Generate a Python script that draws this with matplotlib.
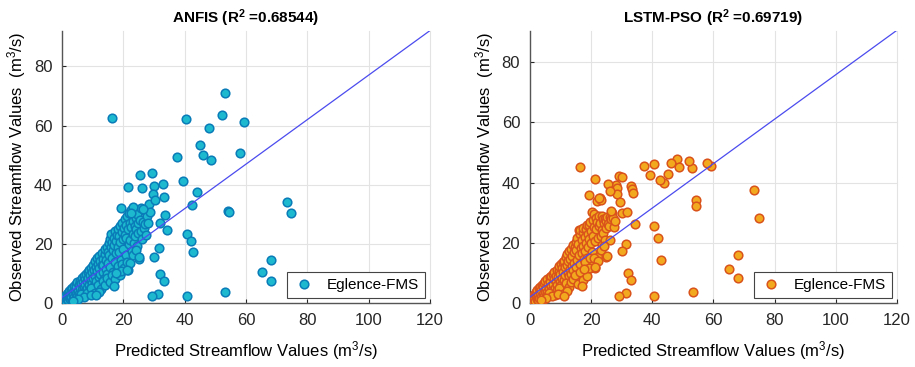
import numpy as np
import matplotlib
matplotlib.use("Agg")
import matplotlib.pyplot as plt

# predicted values (shared by both panels) and observed values per model
pred = [0.2, 0.4, 0.5, 0.7, 0.9, 1.0, 1.2, 1.4, 1.5, 1.7, 1.9, 2.0, 2.2, 2.4, 2.5, 2.7, 2.9, 3.0,
        3.2, 3.4, 3.5, 3.7, 3.9, 4.0, 4.2, 4.4, 4.5, 4.7, 4.9, 5.0, 5.2, 5.4, 5.5, 5.7, 5.9, 6.0,
        6.2, 6.4, 6.5, 6.7, 6.9, 7.0, 7.2, 7.4, 7.5, 7.7, 7.9, 8.0, 8.2, 8.4, 8.5, 8.7, 8.9, 9.0,
        9.2, 9.4, 9.5, 9.7, 9.9, 10.0, 10.2, 10.4, 10.5, 10.7, 10.9, 11.0, 11.2, 11.4, 11.5, 11.7,
        11.9, 12.0, 12.2, 12.4, 12.5, 12.7, 12.9, 13.0, 13.2, 13.4, 13.5, 13.7, 13.9, 14.0, 14.2,
        14.4, 14.5, 14.7, 14.9, 15.0, 15.2, 15.4, 15.5, 15.7, 15.9, 16.0, 16.2, 16.4, 16.5, 16.7,
        16.9, 17.0, 17.2, 17.4, 17.5, 17.7, 17.9, 18.0, 18.2, 18.4, 18.5, 18.7, 18.9, 19.0, 19.2,
        19.4, 19.5, 19.7, 19.9, 20.0, 20.2, 20.4, 20.5, 20.7, 20.9, 21.0, 21.2, 21.4, 21.5, 21.7,
        21.9, 22.0, 22.2, 22.4, 22.5, 22.7, 22.9, 23.0, 23.2, 23.4, 23.5, 23.7, 23.9, 24.0, 24.2,
        24.4, 24.5, 24.7, 24.9, 25.0, 25.3, 25.6, 25.8, 26.1, 26.3, 26.6, 26.9, 27.2, 27.5, 27.8,
        28.0, 28.3, 28.6,
        # below the 1:1 band
        6.3, 8.1, 9.6, 10.8, 11.8, 12.6, 13.3, 14.1, 14.8, 15.6, 16.3, 17.3, 18.1, 18.8, 19.6,
        20.3, 21.1, 22.1, 23.3, 24.1, 7.1, 5.3, 3.6, 9.3, 12.2,
        # scattered points
        16.2, 53.0, 52.1, 40.5, 59.2, 48.0, 45.0, 46.1, 48.6, 58.0, 37.4, 39.3, 43.9, 42.5,
        54.2, 54.3, 73.3, 74.8, 68.0, 65.1, 68.0, 53.2, 40.6, 40.6, 41.9, 42.8, 34.2, 31.3,
        29.2, 11.0, 16.9, 32.0, 33.1, 29.2, 25.4, 33.0, 30.0, 21.4, 26.1, 33.2, 19.2, 33.6,
        31.5, 30.0, 25.2, 29.6, 30.2, 26.4, 23.1, 22.6, 31.8, 19.3, 21.2, 17.6]

obs_anfis = [0.5, 1.2, 0.3, 1.8, 0.6, 2.4, 1.1, 0.4, 2.9, 1.5, 3.3, 0.9, 2.1, 4.0, 1.3, 3.0, 4.6, 2.0,
             5.1, 0.8, 3.7, 2.6, 5.8, 1.9, 4.4, 6.3, 3.2, 5.5, 2.5, 7.0, 4.1, 6.1, 3.0, 7.6, 5.0, 2.2,
             6.8, 8.3, 4.3, 7.2, 3.6, 9.0, 5.7, 8.0, 6.5, 4.5, 9.8, 7.3, 5.2, 10.5, 8.6, 6.2, 11.2, 4.8,
             9.5, 7.8, 12.0, 6.9, 10.4, 8.4, 13.0, 11.3, 5.9, 9.2, 14.1, 12.2, 7.5, 10.8, 15.3, 13.3,
             8.9, 11.7, 16.0, 9.9, 14.2, 6.6, 12.8, 17.0, 10.6, 15.0, 12.9, 8.1, 16.7, 18.2, 11.6,
             14.7, 19.0, 9.8, 17.4, 13.5, 20.3, 16.1, 21.5, 12.1, 18.8, 23.4, 15.2, 20.6, 17.8, 10.5,
             22.1, 19.6, 14.0, 24.2, 21.0, 16.8, 23.0, 11.2, 25.1, 19.1, 22.7, 17.2, 26.0, 20.8, 14.5,
             24.0, 10.8, 27.0, 21.7, 18.1, 25.4, 23.1, 28.3, 16.3, 26.5, 22.0, 29.5, 11.0, 24.9, 19.8,
             30.4, 27.2, 21.4, 31.6, 25.8, 17.5, 29.9, 23.3, 27.8, 20.4, 31.1, 26.2, 22.5, 28.7, 25.0,
             30.2, 19.4, 26.9, 23.8, 14.9, 28.0, 24.5, 32.0, 21.8, 27.5, 25.3, 31.2, 26.7, 22.9, 29.3,
             27.0, 33.5, 30.9,
             2.9, 3.5, 5.1, 3.3, 6.2, 4.9, 7.4, 6.1, 8.6, 7.0, 9.4, 8.2, 12.5, 9.6, 13.1,
             11.9, 14.0, 13.4, 16.4, 18.0, 1.9, 1.4, 0.6, 2.7, 3.8,
             62.6, 70.9, 63.7, 62.4, 61.2, 59.1, 53.5, 50.2, 48.3, 50.6, 49.5, 41.2, 37.7, 33.1,
             31.2, 30.8, 34.0, 30.5, 14.4, 10.4, 7.5, 3.8, 2.2, 23.2, 21.0, 17.2, 24.7, 3.0,
             2.5, 2.6, 5.6, 9.9, 7.3, 44.1, 43.2, 40.3, 39.5, 39.3, 38.8, 36.0, 32.3, 29.6,
             18.6, 15.5, 15.7, 37.0, 34.8, 31.8, 32.5, 30.3, 27.2, 10.7, 11.3, 10.2]

obs_lstm = [0.8, 0.3, 1.5, 1.1, 2.0, 0.7, 2.6, 1.2, 3.1, 0.5, 2.2, 3.6, 1.4, 4.2, 0.9, 2.8, 4.9, 1.6,
            3.4, 5.3, 2.1, 4.4, 6.0, 0.8, 3.0, 5.5, 2.4, 6.7, 4.0, 7.2, 1.9, 5.0, 3.6, 7.9, 2.8, 6.2,
            4.7, 8.5, 3.1, 7.0, 5.6, 8.9, 4.3, 9.6, 6.4, 3.4, 8.1, 10.2, 5.0, 7.4, 9.1, 6.0, 11.0, 4.4,
            8.6, 10.7, 12.3, 7.0, 9.5, 12.8, 6.1, 11.5, 8.3, 13.5, 10.2, 7.6, 14.0, 11.9, 9.4, 15.2,
            6.8, 12.6, 16.4, 10.0, 13.8, 8.8, 17.1, 11.2, 14.6, 9.6, 18.0, 12.4, 15.7, 19.3, 10.9,
            16.9, 13.3, 18.6, 20.2, 11.8, 17.6, 14.2, 21.7, 19.5, 24.1, 15.9, 22.8, 12.9, 24.3, 18.4,
            20.9, 16.5, 23.5, 19.0, 25.0, 14.5, 21.8, 17.3, 24.6, 20.0, 26.0, 15.0, 23.0, 18.6, 25.8,
            21.2, 11.7, 26.9, 19.8, 23.9, 30.3, 17.0, 27.5, 22.3, 25.1, 29.6, 20.5, 11.5, 28.2, 24.7,
            27.0, 33.7, 15.4, 21.5, 25.6, 29.0, 34.8, 26.6, 22.4, 28.8, 24.2, 19.2, 27.8, 23.1, 26.4,
            28.0, 20.8, 24.9, 27.2, 15.2, 28.6, 26.3, 25.5, 21.0, 28.4, 27.9, 30.0, 28.1, 25.1, 27.3,
            39.2, 38.1, 36.3,
            3.2, 2.5, 4.9, 2.9, 6.5, 5.3, 7.1, 8.0, 9.2, 6.4, 10.3, 7.8, 13.6, 9.0, 14.8,
            12.2, 15.1, 14.0, 17.5, 18.9, 2.2, 1.7, 1.0, 3.0, 4.1,
            45.0, 44.8, 47.3, 46.2, 45.5, 47.9, 42.8, 46.5, 45.0, 46.5, 45.4, 42.6, 39.9, 41.0,
            34.2, 32.1, 37.4, 28.1, 15.9, 11.2, 8.3, 3.7, 2.2, 25.6, 21.7, 14.4, 26.2, 3.3,
            2.4, 2.4, 5.5, 10.1, 7.7, 42.2, 39.5, 39.0, 41.9, 41.3, 37.3, 37.8, 35.7, 36.6,
            19.5, 17.1, 15.7, 33.6, 29.8, 30.4, 34.2, 34.8, 30.1, 11.7, 11.9, 11.4]

# least-squares line: [intercept, slope]
fit_anfis = [1.8, 0.753]
fit_lstm = [2.0, 0.738]

titles = ["ANFIS (R$^{2}$ =0.68544)", "LSTM-PSO (R$^{2}$ =0.69719)"]
series = [obs_anfis, obs_lstm]
fits = [fit_anfis, fit_lstm]
face = ["#1DB9CF", "#F2A91E"]
edge = ["#0A7CB8", "#D9531A"]
ylims = [92, 90.3]

plt.rcParams["font.family"] = ["Liberation Sans", "DejaVu Sans"]
plt.rcParams["mathtext.default"] = "regular"

fig = plt.figure(figsize=(9.15, 3.67), dpi=100)
rects = [[0.0678, 0.1744, 0.4022, 0.7411], [0.5792, 0.1744, 0.4011, 0.7411]]

for i in range(2):
    ax = fig.add_axes(rects[i])
    ax.plot(pred, series[i], "o", ls="none", ms=6.2, mfc=face[i], mec=edge[i],
            mew=1.1, label="Eglence-FMS", zorder=3)
    xs = np.array([0, 120])
    ax.plot(xs, fits[i][0] + fits[i][1] * xs, color="#4B4BEF", lw=0.9, zorder=4)
    ax.set_xlim(0, 120)
    ax.set_ylim(0, ylims[i])
    ax.set_xticks([0, 20, 40, 60, 80, 100, 120])
    ax.set_yticks([0, 20, 40, 60, 80])
    ax.grid(True, color="#E3E3E3", lw=0.8, clip_on=False)
    ax.set_axisbelow(True)
    for s in ["top", "right"]:
        ax.spines[s].set_visible(False)
    for s in ["left", "bottom"]:
        ax.spines[s].set_color("#555555")
        ax.spines[s].set_linewidth(1.0)
    ax.tick_params(direction="in", length=3, labelsize=12, colors="#262626", pad=7)
    ax.set_title(titles[i], fontsize=11, fontweight="bold", pad=6)
    ax.set_xlabel("Predicted Streamflow Values (m$^{3}$/s)", fontsize=12, labelpad=8)
    ax.set_ylabel("Observed Streamflow Values  (m$^{3}$/s)", fontsize=12, labelpad=4)
    leg = ax.legend(loc="lower right", fontsize=11, fancybox=False, framealpha=1,
                    edgecolor="#444444", handletextpad=0.8, borderaxespad=0.3,
                    handlelength=1.4, borderpad=0.4)
    leg.get_frame().set_linewidth(0.8)

plt.savefig("out.png", dpi=100)
